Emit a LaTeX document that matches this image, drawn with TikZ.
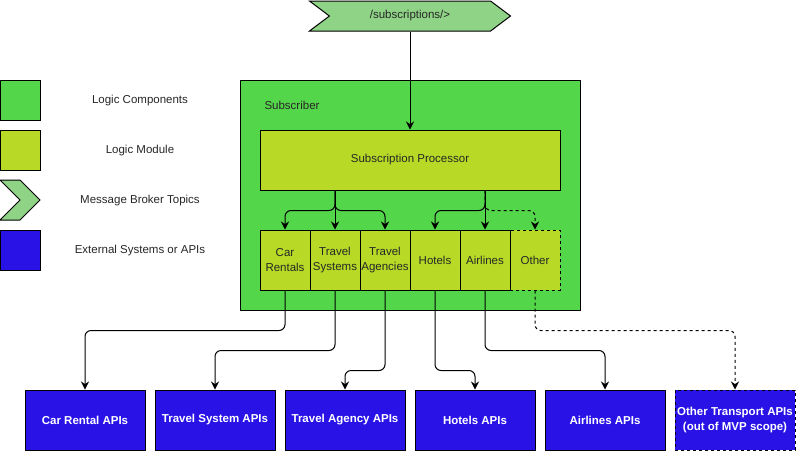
\documentclass[tikz,border=0pt]{standalone}
\usepackage{fontspec}
\setmainfont{Liberation Sans}
\usepackage{xcolor}
\usetikzlibrary{positioning,arrows.meta,shapes.symbols}

\definecolor{compgreen}{RGB}{84,214,74}
\definecolor{modgreen}{RGB}{184,218,38}
\definecolor{topicgreen}{RGB}{143,212,134}
\definecolor{extblue}{RGB}{40,18,230}

\begin{document}
\begin{tikzpicture}[x=1pt,y=-1pt,
    every node/.style={font=\fontsize{11.5}{15}\selectfont, text=black!85},
    box/.style={draw, line width=1pt, inner sep=0pt},
    comp/.style={box, fill=compgreen},
    module/.style={box, fill=modgreen, minimum width=50pt, minimum height=60pt, align=center},
    topic/.style={box, fill=topicgreen, shape=signal, signal to=east, signal from=west},
    extapi/.style={box, fill=extblue, minimum width=120pt, minimum height=60pt, align=center,
        text=white, font=\fontsize{11.5}{15}\selectfont\bfseries},
    link/.style={line width=1pt, rounded corners=6pt, -{Stealth[length=8pt,width=8pt]}},
    maybe/.style={dash pattern=on 3pt off 3pt}]
    \useasboundingbox (0,0) rectangle (796,451);

    % Legenda
    \node[comp, minimum width=40pt, minimum height=40pt] (legcomp) at (20,100) {};
    \node (legcomptxt) at (140,101) {Logic Components};
    \node[module, minimum width=40pt, minimum height=40pt] (legmod) at (20,150) {};
    \node (legmodtxt) at (140,151) {Logic Module};
    \node[topic, minimum width=40pt, minimum height=40pt, signal pointer angle=90] (legtopic) at (20,200) {};
    \node (legtopictxt) at (140,201) {Message Broker Topics};
    \node[extapi, minimum width=40pt, minimum height=40pt] (legext) at (20,250) {};
    \node (legexttxt) at (140,251) {External Systems or APIs};

    % Topico de entrada
    \node[topic, minimum width=201pt, minimum height=30pt, signal pointer angle=74] (topic) at (410,16) {/subscriptions/>};

    % Subscriber e seus modulos
    \node[comp, minimum width=340pt, minimum height=230pt] (sub) at (410,195) {};
    \node[anchor=west] (sublbl) at (261,105) {Subscriber};
    \node[module, minimum width=300pt] (proc) at (410,160) {Subscription Processor};
    \node[module, maybe] (othr) at (535,260) {Other};
    \node[module] (carr) at (285,260) {Car\\Rentals};
    \node[module] (tsys) at (335,260) {Travel\\Systems};
    \node[module] (tagy) at (385,260) {Travel\\Agencies};
    \node[module] (hotl) at (435,260) {Hotels};
    \node[module] (airl) at (485,260) {Airlines};

    % APIs externas
    \node[extapi] (carapi) at (85,420) {Car Rental APIs};
    \node[extapi] (tsysapi) at (215,420) {Travel System APIs};
    \node[extapi] (tagyapi) at (345,420) {Travel Agency APIs};
    \node[extapi] (hotlapi) at (475,420) {Hotels APIs};
    \node[extapi] (airlapi) at (605,420) {Airlines APIs};
    \node[extapi, maybe] (othrapi) at (735,420) {Other Transport APIs\\(out of MVP scope)};

    % Ligacoes
    \draw[link] (topic.south) -- (proc.north);
    \draw[link] (proc.south -| tsys) -- ++(0,20) -| (carr.north);
    \draw[link] (proc.south -| tsys) -- ++(0,20) -| (tagy.north);
    \draw[link] (proc.south -| tsys) -- (tsys.north);
    \draw[link, maybe] (proc.south -| airl) -- ++(0,20) -| (othr.north);
    \draw[link] (proc.south -| airl) -- ++(0,20) -| (hotl.north);
    \draw[link] (proc.south -| airl) -- (airl.north);

    \draw[link] (carr.south) -- ++(0,40) -| (carapi.north);
    \draw[link] (tsys.south) -- ++(0,60) -| (tsysapi.north);
    \draw[link] (tagy.south) -- ++(0,80) -| (tagyapi.north);
    \draw[link] (hotl.south) -- ++(0,80) -| (hotlapi.north);
    \draw[link] (airl.south) -- ++(0,60) -| (airlapi.north);
    \draw[link, maybe] (othr.south) -- ++(0,40) -| (othrapi.north);
\end{tikzpicture}
\end{document}
